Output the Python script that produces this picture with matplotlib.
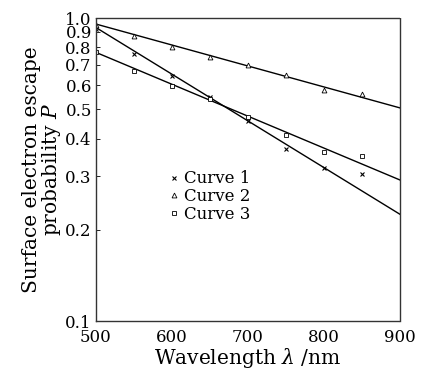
import matplotlib
matplotlib.use("Agg")
import matplotlib.pyplot as plt
from matplotlib.ticker import FixedLocator, NullLocator, FixedFormatter

wavelength = [500, 550, 600, 650, 700, 750, 800, 850]
curve1 = [0.92, 0.76, 0.645, 0.548, 0.457, 0.37, 0.32, 0.305]
curve2 = [0.95, 0.87, 0.80, 0.745, 0.70, 0.648, 0.578, 0.56]
curve3 = [0.77, 0.668, 0.597, 0.54, 0.47, 0.411, 0.36, 0.35]

fit_x = [500, 900]
fit1 = [0.93, 0.225]
fit2 = [0.955, 0.505]
fit3 = [0.77, 0.292]

yticks = [0.1, 0.2, 0.3, 0.4, 0.5, 0.6, 0.7, 0.8, 0.9, 1.0]
ytick_labels = ["0.1", "0.2", "0.3", "0.4", "0.5", "0.6", "0.7", "0.8", "0.9", "1.0"]
xticks = [500, 600, 700, 800, 900]

plt.rcParams["font.family"] = ["DejaVu Serif"]
plt.rcParams["mathtext.fontset"] = "dejavuserif"

fig = plt.figure(figsize=(4.27, 3.72), dpi=100)
ax = fig.add_axes([0.2248, 0.137, 0.712, 0.8146])

ax.plot(fit_x, fit1, color="black", lw=1.0)
ax.plot(fit_x, fit2, color="black", lw=1.0)
ax.plot(fit_x, fit3, color="black", lw=1.0)

ax.plot(wavelength, curve1, linestyle="none", marker="x", ms=3.5, mew=0.8,
        color="black", label="Curve 1")
ax.plot(wavelength, curve2, linestyle="none", marker="^", ms=3.5, mew=0.6,
        mfc="white", mec="black", label="Curve 2")
ax.plot(wavelength, curve3, linestyle="none", marker="s", ms=3.2, mew=0.6,
        mfc="white", mec="black", label="Curve 3")

ax.set_yscale("log")
ax.set_xlim(500, 900)
ax.set_ylim(0.1, 1.0)
ax.yaxis.set_major_locator(FixedLocator(yticks))
ax.yaxis.set_major_formatter(FixedFormatter(ytick_labels))
ax.yaxis.set_minor_locator(NullLocator())
ax.xaxis.set_major_locator(FixedLocator(xticks))
ax.tick_params(axis="y", direction="in", length=3, width=0.6, labelsize=12, pad=3)
ax.tick_params(axis="x", length=0, labelsize=12, pad=6)

for s in ax.spines.values():
    s.set_linewidth(1.0)
    s.set_linestyle((0, (2, 1)))
    s.set_color("#333333")

ax.set_xlabel(r"Wavelength $\lambda$ /nm", fontsize=14.5, labelpad=0)
ax.set_ylabel("Surface electron escape\nprobability $P$", fontsize=14.5,
              labelpad=2, linespacing=0.9)

ax.legend(loc="upper left", bbox_to_anchor=(0.24, 0.497), frameon=False,
          fontsize=12, handlelength=0.6, handletextpad=0.3, labelspacing=0.05,
          borderaxespad=0, borderpad=0)

fig.savefig("out.png", dpi=100)
